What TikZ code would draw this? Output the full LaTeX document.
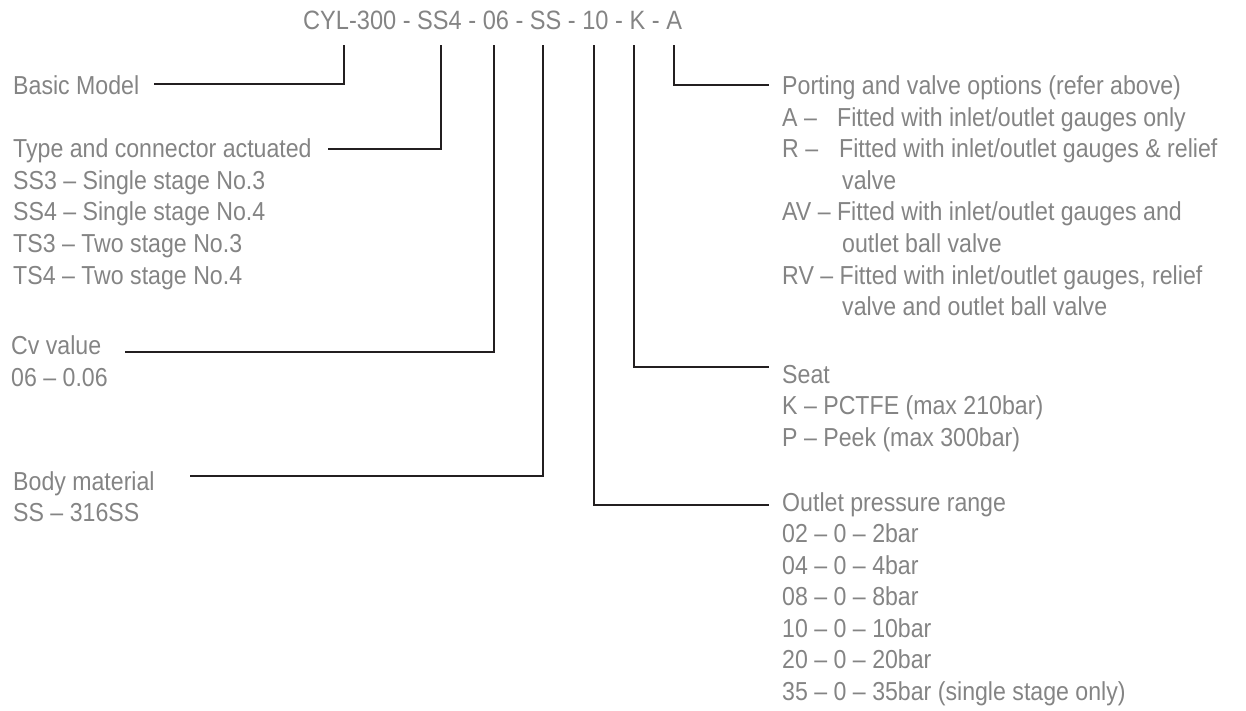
\documentclass[tikz,border=0pt]{standalone}
\usepackage{fontspec}
\setmainfont{Liberation Sans}[FakeStretch=0.89]
\definecolor{txt}{RGB}{132,132,132}
\definecolor{ln}{RGB}{35,31,32}
\begin{document}
\begin{tikzpicture}[x=1pt,y=-1pt,
  lbl/.style={anchor=base west,inner sep=0pt,text=txt,font=\fontsize{26}{30}\selectfont},
  ttl/.style={lbl,font=\fontsize{26.5}{30}\selectfont},
  conn/.style={draw=ln,line width=2.6pt,line cap=rect}]
\useasboundingbox (0,0) rectangle (1246,711);
% title
\node[ttl] (title) at (303,30) {CYL-300 - SS4 - 06 - SS - 10 - K - A};
% left labels
\node[lbl] (basic) at (13,95) {Basic Model};
\node[lbl] (type) at (13,158) {Type and connector actuated};
\node[lbl] (ss3) at (13,189.5) {SS3 – Single stage No.3};
\node[lbl] (ss4) at (13,221) {SS4 – Single stage No.4};
\node[lbl] (ts3) at (13,252.5) {TS3 – Two stage No.3};
\node[lbl] (ts4) at (13,284) {TS4 – Two stage No.4};
\node[lbl] (cv) at (11,354) {Cv value};
\node[lbl] (cv06) at (11,386) {06 – 0.06};
\node[lbl] (body) at (13,490) {Body material};
\node[lbl] (bodyss) at (13,521.5) {SS – 316SS};
% right labels
\node[lbl] (port) at (782,95) {Porting and valve options (refer above)};
\node[lbl] (pa) at (782,126.5) {A –};
\node[lbl] (pat) at (837,126.5) {Fitted with inlet/outlet gauges only};
\node[lbl] (pr) at (782,158) {R –};
\node[lbl] (prt) at (839,158) {Fitted with inlet/outlet gauges \& relief};
\node[lbl] (prt2) at (842,189.5) {valve};
\node[lbl] (pav) at (782,221) {AV – Fitted with inlet/outlet gauges and};
\node[lbl] (pav2) at (842,252.5) {outlet ball valve};
\node[lbl] (prv) at (782,284) {RV – Fitted with inlet/outlet gauges, relief};
\node[lbl] (prv2) at (842,315.5) {valve and outlet ball valve};
\node[lbl] (seat) at (782,383) {Seat};
\node[lbl] (seatk) at (782,414.5) {K – PCTFE (max 210bar)};
\node[lbl] (seatp) at (782,446) {P – Peek (max 300bar)};
\node[lbl] (outl) at (782,511) {Outlet pressure range};
\node[lbl] (o02) at (782,542.5) {02 – 0 – 2bar};
\node[lbl] (o04) at (782,574) {04 – 0 – 4bar};
\node[lbl] (o08) at (782,605.5) {08 – 0 – 8bar};
\node[lbl] (o10) at (782,637) {10 – 0 – 10bar};
\node[lbl] (o20) at (782,668.5) {20 – 0 – 20bar};
\node[lbl] (o35) at (782,700) {35 – 0 – 35bar (single stage only)};
% tick tops under the code
\coordinate (t1) at (344,46);
\coordinate (t2) at (441,46);
\coordinate (t3) at (494,46);
\coordinate (t4) at (543,46);
\coordinate (t5) at (594,46);
\coordinate (t6) at (634,46);
\coordinate (t7) at (674,46);
% line ends near labels
\coordinate (e1) at (155,84);
\coordinate (e2) at (329,149);
\coordinate (e3) at (126,352);
\coordinate (e4) at (191,476);
\coordinate (e5) at (768,505);
\coordinate (e6) at (768,367);
\coordinate (e7) at (768,85);
\draw[conn] (t1) |- (e1);
\draw[conn] (t2) |- (e2);
\draw[conn] (t3) |- (e3);
\draw[conn] (t4) |- (e4);
\draw[conn] (t5) |- (e5);
\draw[conn] (t6) |- (e6);
\draw[conn] (t7) |- (e7);
\end{tikzpicture}
\end{document}
